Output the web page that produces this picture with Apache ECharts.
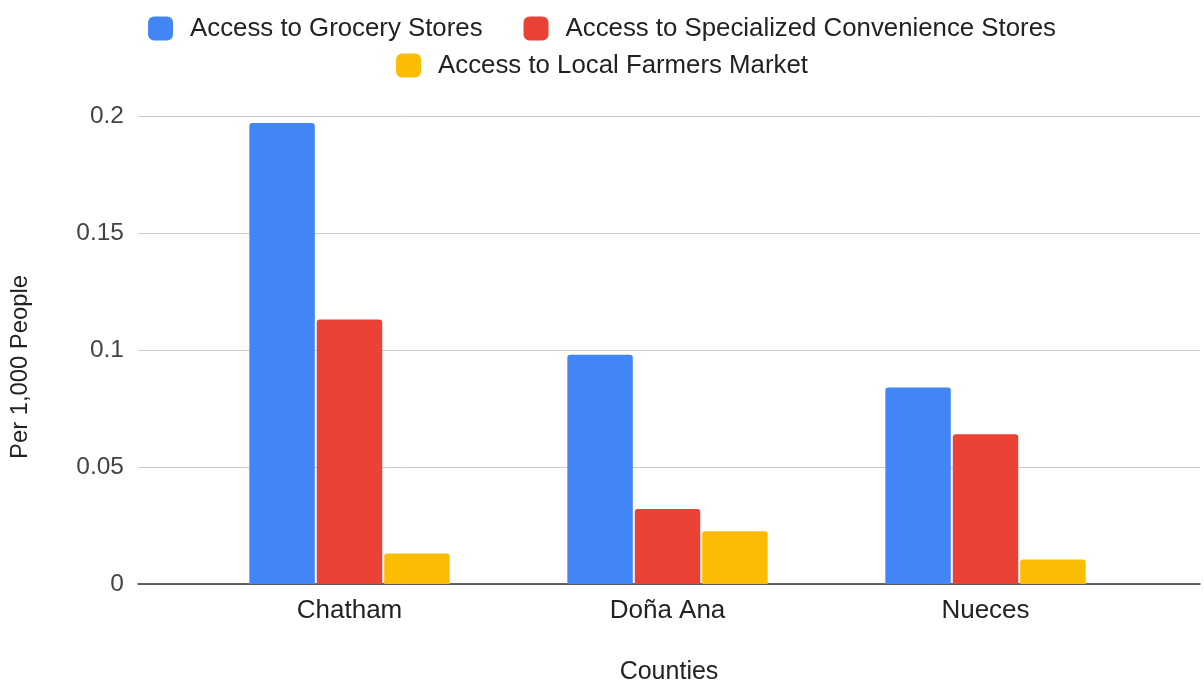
<!DOCTYPE html>
<html>
<head>
<meta charset="utf-8">
<script src="https://cdn.jsdelivr.net/npm/echarts@6/dist/echarts.min.js"></script>
<style>
  html, body { margin: 0; padding: 0; background: #fff; }
  #chart { width: 1204px; height: 687px; }
</style>
</head>
<body>
<div id="chart"></div>
<script>
const counties = ['Chatham', 'Doña Ana', 'Nueces']
const grocery = [0.197, 0.098, 0.084]
const specialized = [0.113, 0.032, 0.064]
const farmers = [0.013, 0.0225, 0.0105]
const yTicks = { min: 0, max: 0.2, interval: 0.05 }

const font = 'Liberation Sans, Arial, sans-serif'
const colors = ['#4285F4', '#EA4335', '#FBBC04']

const chart = echarts.init(document.getElementById('chart'))

function bar(name, data, color) {
  return {
    name: name,
    type: 'bar',
    xAxisIndex: 1,
    yAxisIndex: 1,
    data: data,
    barGap: '3%',
    barCategoryGap: '37%',
    itemStyle: { color: color, borderRadius: [3, 3, 0, 0] }
  }
}

const legendBase = {
  left: 'center',
  itemWidth: 25,
  itemHeight: 24,
  itemGap: 41,
  icon: 'roundRect',
  textStyle: { fontFamily: font, fontSize: 25.8, color: '#222', padding: [0, 0, 0, 12] }
}

chart.setOption({
  animation: false,
  textStyle: { fontFamily: font },
  legend: [
    Object.assign({}, legendBase, {
      top: 10.5,
      data: ['Access to Grocery Stores', 'Access to Specialized Convenience Stores']
    }),
    Object.assign({}, legendBase, {
      top: 47.5,
      data: ['Access to Local Farmers Market']
    })
  ],
  grid: [
    // gridlines / axis frame
    { left: 138, right: 4, top: 116, bottom: 103, outerBoundsMode: 'none' },
    // bars
    { left: 190.5, right: 59.5, top: 116, bottom: 103, outerBoundsMode: 'none' }
  ],
  xAxis: [
    {
      gridIndex: 0,
      type: 'value',
      min: 0,
      max: 1,
      axisLine: { show: true, onZero: false, lineStyle: { color: '#333', width: 1.5 } },
      axisTick: { show: false },
      axisLabel: { show: false },
      splitLine: { show: false },
      name: 'Counties',
      nameLocation: 'middle',
      nameGap: 76,
      nameTextStyle: { fontFamily: font, fontSize: 25, color: '#222' }
    },
    {
      gridIndex: 1,
      type: 'category',
      data: counties,
      axisLine: { show: false },
      axisTick: { show: false },
      axisLabel: { fontFamily: font, fontSize: 26, color: '#222', margin: 14 }
    }
  ],
  yAxis: [
    {
      gridIndex: 0,
      type: 'value',
      min: yTicks.min,
      max: yTicks.max,
      interval: yTicks.interval,
      axisLine: { show: false },
      axisTick: { show: false },
      axisLabel: { fontFamily: font, fontSize: 24.5, color: '#444', margin: 14 },
      splitLine: { lineStyle: { color: '#ccc', width: 1 } },
      name: 'Per 1,000 People',
      nameLocation: 'middle',
      nameRotate: 90,
      nameGap: 106,
      nameTextStyle: { fontFamily: font, fontSize: 23.8, color: '#222', padding: [0, 34, 0, 0] }
    },
    {
      gridIndex: 1,
      type: 'value',
      min: yTicks.min,
      max: yTicks.max,
      interval: yTicks.interval,
      show: false
    }
  ],
  series: [
    bar('Access to Grocery Stores', grocery, colors[0]),
    bar('Access to Specialized Convenience Stores', specialized, colors[1]),
    bar('Access to Local Farmers Market', farmers, colors[2])
  ]
})
</script>
</body>
</html>
